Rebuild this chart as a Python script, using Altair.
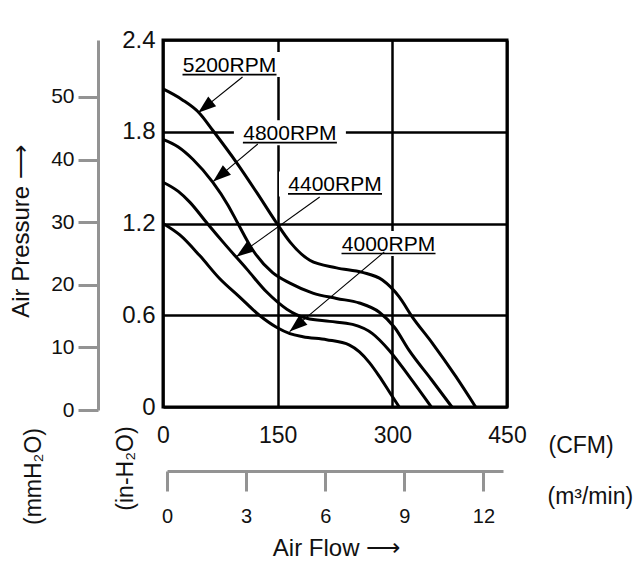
import math
import altair as alt
import pandas as pd

# ---------------- data ----------------
cfm_5200 = [0, 25, 48, 65, 96, 123, 149, 166, 192, 227, 261, 287, 309, 326, 352, 383, 409]
p_5200 = [2.08, 2.01, 1.92, 1.81, 1.60, 1.40, 1.20, 1.08, 0.96, 0.91, 0.88, 0.83, 0.72, 0.59, 0.42, 0.20, 0.0]

cfm_4800 = [0, 20, 39, 65, 85, 98, 117, 143, 166, 196, 227, 257, 283, 303, 322, 351, 378]
p_4800 = [1.75, 1.70, 1.62, 1.47, 1.32, 1.20, 1.03, 0.88, 0.81, 0.745, 0.71, 0.68, 0.62, 0.52, 0.37, 0.18, 0.0]

cfm_4400 = [0, 20, 35, 58, 80, 110, 136, 162, 188, 218, 248, 274, 296, 322, 351]
p_4400 = [1.47, 1.41, 1.34, 1.20, 1.07, 0.90, 0.75, 0.64, 0.58, 0.56, 0.54, 0.48, 0.37, 0.20, 0.0]

cfm_4000 = [0, 22, 48, 74, 100, 126, 149, 166, 183, 214, 244, 257, 270, 283, 296, 309]
p_4000 = [1.20, 1.125, 0.99, 0.84, 0.72, 0.60, 0.52, 0.48, 0.46, 0.44, 0.405, 0.36, 0.29, 0.20, 0.10, 0.0]

rpm_names = ["5200RPM", "4800RPM", "4400RPM", "4000RPM"]

# annotation labels (text centre / baseline) and arrows (start -> tip), in data units
label_x = [87, 166, 225, 295]
label_y = [2.19, 1.745, 1.41, 1.02]
arrow_x0 = [104, 124, 205, 289.5]
arrow_y0 = [2.158, 1.72, 1.373, 1.014]
arrow_x1 = [46, 65.6, 96, 165.6]
arrow_y1 = [1.925, 1.474, 0.983, 0.493]

cfm_ticks = [0, 150, 300, 450]
inh2o_ticks = [0, 0.6, 1.2, 1.8, 2.4]
mm_ticks = [0, 10, 20, 30, 40, 50]
m3_ticks = [0, 3, 6, 9, 12]

# ---------------- layout constants ----------------
W, H = 344, 367
X_MAX, Y_MAX = 450, 2.4
MM_TOP = 59.1
M3_MAX = 12.74
PX_X = W / X_MAX
PX_Y = H / Y_MAX

FONT = "Liberation Sans, Arial, Helvetica, sans-serif"
GRAY = "#939393"
INK = "#111111"

# ---------------- tables ----------------
rows = []
for name, xs, ys in zip(rpm_names, [cfm_5200, cfm_4800, cfm_4400, cfm_4000],
                        [p_5200, p_4800, p_4400, p_4000]):
    for i, (x, y) in enumerate(zip(xs, ys)):
        rows.append({"rpm": name, "cfm": x, "p": y, "order": i})
curves_df = pd.DataFrame(rows)

TEXT_HALF = 47    # px, half width of label text
BOX_HALF = 56     # px
ann = pd.DataFrame({
    "label": rpm_names,
    "lx": label_x, "ly": label_y,
    "x0": arrow_x0, "y0": arrow_y0, "x1": arrow_x1, "y1": arrow_y1,
})
ann["ang"] = [
    math.degrees(math.atan2((x1 - x0) * PX_X, (y1 - y0) * PX_Y)) % 360
    for x0, y0, x1, y1 in zip(arrow_x0, arrow_y0, arrow_x1, arrow_y1)
]
ann["ul_a"] = ann["lx"] - TEXT_HALF / PX_X
ann["ul_b"] = ann["lx"] + TEXT_HALF / PX_X
ann["ul_y"] = ann["ly"] - 2.5 / PX_Y
ann["bx_a"] = ann["lx"] - BOX_HALF / PX_X
ann["bx_b"] = ann["lx"] + BOX_HALF / PX_X
ann["by_a"] = ann["ly"] - 5 / PX_Y
ann["by_b"] = ann["ly"] + 20 / PX_Y

mm_df = pd.DataFrame({"mm": mm_ticks})
m3_df = pd.DataFrame({"m3": m3_ticks})

# ---------------- scales & axes ----------------
SX = alt.Scale(domain=[0, X_MAX], nice=False, zero=False)
SY = alt.Scale(domain=[0, Y_MAX], nice=False, zero=False)

AX_X = alt.Axis(
    values=cfm_ticks, format="d", orient="bottom",
    grid=True, gridColor="black", gridWidth=2.5, gridOpacity=1,
    domain=False, ticks=False, tickSize=0,
    labelFontSize=23, labelColor=INK, labelPadding=35, labelBaseline="alphabetic",
    labelFlush=False, labelOverlap=False,
    title="(CFM)", titleFontSize=23, titleFontWeight="normal", titleColor=INK,
    titleX=385, titleY=45, titleAlign="left", titleBaseline="alphabetic", titleAngle=0,
)
AX_Y = alt.Axis(
    values=inh2o_ticks, orient="left",
    labelExpr="datum.value == 0 ? '0' : format(datum.value, '.1f')",
    grid=True, gridColor="black", gridWidth=2.5, gridOpacity=1,
    domain=False, ticks=False, tickSize=0,
    labelFontSize=24, labelColor=INK, labelPadding=8,
    labelFlush=False, labelOverlap=False,
    title="(in-H₂O)", titleFontSize=23, titleFontWeight="normal", titleColor=INK,
    titleX=-31, titleY=428, titleAlign="center", titleBaseline="alphabetic", titleAngle=270,
)


def X(f):
    return alt.X(f, type="quantitative", scale=SX, axis=AX_X)


def Y(f):
    return alt.Y(f, type="quantitative", scale=SY, axis=AX_Y)


base_ann = alt.Chart(ann)

boxes = base_ann.mark_rect(color="white", opacity=1).encode(
    x=X("bx_a"), x2="bx_b", y=Y("by_a"), y2="by_b"
)

curves = alt.Chart(curves_df).mark_line(
    color="black", strokeWidth=3, interpolate="monotone"
).encode(x=X("cfm"), y=Y("p"), detail="rpm:N", order="order:Q")

arrow_lines = base_ann.mark_rule(color="black", strokeWidth=1.1).encode(
    x=X("x0"), y=Y("y0"), x2="x1", y2="y1"
)

ARROW_LEN = 18
arrow_heads = base_ann.mark_point(
    shape="M0,0L-0.35,1L0.35,1Z", filled=True, color="black", opacity=1,
    size=(2 * ARROW_LEN) ** 2, strokeWidth=0,
).encode(x=X("x1"), y=Y("y1"), angle=alt.Angle("ang:Q", scale=None))

underlines = base_ann.mark_rule(color="black", strokeWidth=1.6).encode(
    x=X("ul_a"), x2="ul_b", y=Y("ul_y")
)

labels = base_ann.mark_text(
    align="center", baseline="alphabetic", fontSize=21, color="black", font=FONT
).encode(x=X("lx"), y=Y("ly"), text="label:N")

main = alt.layer(boxes, curves, arrow_lines, arrow_heads, underlines, labels)

# secondary pressure axis (mmH2O)
mm_layer = alt.Chart(mm_df).mark_point(opacity=0).encode(
    y=alt.Y("mm:Q",
            scale=alt.Scale(domain=[0, MM_TOP], range=[H + 3, 0], nice=False, zero=False),
            axis=alt.Axis(orient="left", offset=65, values=mm_ticks, grid=False,
                          domainColor=GRAY, domainWidth=3,
                          tickColor=GRAY, tickWidth=3, tickSize=20,
                          labelFontSize=21, labelColor=INK, labelPadding=4,
                          labelFlush=False, labelOverlap=False,
                          title="Air Pressure ⟶", titleFontSize=24, titleFontWeight="normal",
                          titleColor=INK, titleX=-70, titleY=191, titleAngle=270,
                          titleAlign="center", titleBaseline="alphabetic"))
)

# unit label for mmH2O
mm_unit_layer = alt.Chart(mm_df).mark_point(opacity=0).encode(
    y=alt.Y("mm:Q", scale=alt.Scale(domain=[0, MM_TOP], nice=False, zero=False),
            axis=alt.Axis(orient="left", offset=0, grid=False, domain=False, ticks=False,
                          labels=False,
                          title="(mmH₂O)", titleFontSize=23, titleFontWeight="normal",
                          titleColor=INK, titleX=-123, titleY=436, titleAngle=270,
                          titleAlign="center", titleBaseline="alphabetic"))
)

# secondary flow axis (m3/min)
m3_layer = alt.Chart(m3_df).mark_point(opacity=0).encode(
    x=alt.X("m3:Q",
            scale=alt.Scale(domain=[0, M3_MAX], range=[4, 340], nice=False, zero=False),
            axis=alt.Axis(orient="bottom", offset=64, values=m3_ticks, grid=False,
                          domainColor=GRAY, domainWidth=3,
                          tickColor=GRAY, tickWidth=3, tickSize=20,
                          labelFontSize=20, labelColor=INK, labelPadding=31,
                          labelBaseline="alphabetic", labelFlush=False, labelOverlap=False,
                          title="(m³/min)", titleFontSize=23, titleFontWeight="normal",
                          titleColor=INK, titleX=384, titleY=32, titleAngle=0,
                          titleAlign="left", titleBaseline="alphabetic"))
)

# overall flow title
flow_title_layer = alt.Chart(m3_df).mark_point(opacity=0).encode(
    x=alt.X("m3:Q", scale=alt.Scale(domain=[0, M3_MAX], nice=False, zero=False),
            axis=alt.Axis(orient="bottom", offset=0, grid=False, domain=False, ticks=False,
                          labels=False,
                          title="Air Flow ⟶", titleFontSize=24, titleFontWeight="normal",
                          titleColor=INK, titleX=173, titleY=148, titleAngle=0,
                          titleAlign="center", titleBaseline="alphabetic"))
)

chart = alt.layer(
    main, mm_layer, mm_unit_layer, m3_layer, flow_title_layer
).resolve_scale(
    x="independent", y="independent"
).properties(
    width=W, height=H,
    autosize=alt.AutoSizeParams(type="none"),
    padding={"left": 155, "top": 32, "right": 129, "bottom": 155},
).configure(
    font=FONT
).configure_view(
    stroke="black", strokeWidth=3
)

chart.save("out.html", embed_options={"renderer": "svg", "actions": False})
